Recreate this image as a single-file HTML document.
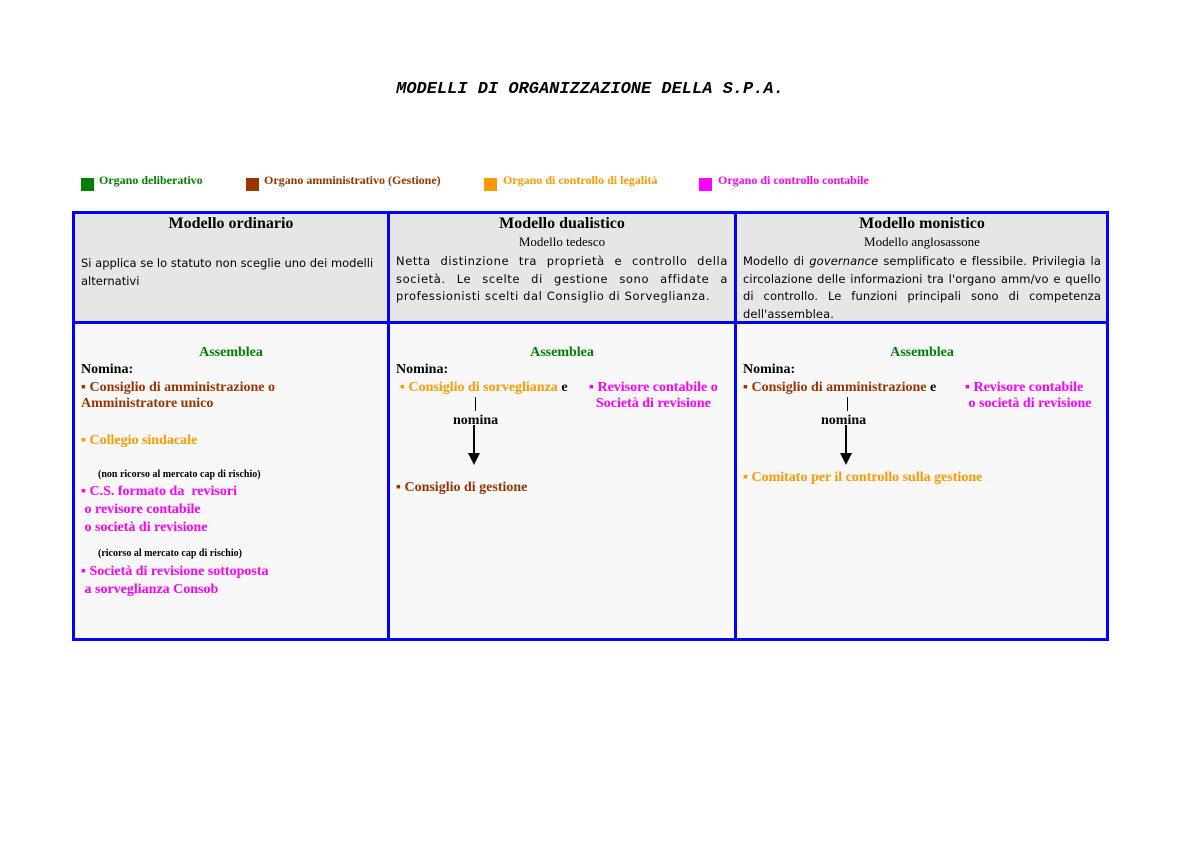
<!DOCTYPE html>
<html><head><meta charset="utf-8"><style>
body{margin:0;width:1200px;height:848px;background:#fff;position:relative;overflow:hidden;font-family:"Liberation Serif",serif}
.a{position:absolute;white-space:nowrap}
.b{font-weight:bold;font-size:14px}
.g{color:#008000}.r{color:#993300}.o{color:#FF9900}.m{color:#FF00FF}.k{color:#000}
.d{font-family:"DejaVu Sans","Liberation Sans",sans-serif;font-size:11.5px;line-height:17.5px;position:absolute;text-align:justify;letter-spacing:0.6px}
.h{position:absolute;text-align:center;font-size:16px;font-weight:bold}
.sq{position:absolute;width:13px;height:13px}
</style></head><body>
<div class="a" style="left:0;width:1180px;top:80px;text-align:center;font-family:'Liberation Mono',monospace;font-weight:bold;font-style:italic;font-size:17px">MODELLI DI ORGANIZZAZIONE DELLA S.P.A.</div>

<div class="sq" style="left:81px;top:178px;background:#008000"></div>
<div class="a b g" style="left:99px;top:173px;font-size:12px">Organo deliberativo</div>
<div class="sq" style="left:246px;top:178px;background:#993300"></div>
<div class="a b r" style="left:264px;top:173px;font-size:12px">Organo amministrativo (Gestione)</div>
<div class="sq" style="left:484px;top:178px;background:#FF9900"></div>
<div class="a b o" style="left:503px;top:173px;font-size:12px">Organo di controllo di legalità</div>
<div class="sq" style="left:699px;top:178px;background:#FF00FF"></div>
<div class="a b m" style="left:718px;top:173px;font-size:12px">Organo di controllo contabile</div>

<div style="position:absolute;left:72px;top:211px;width:1034px;height:110px;background:#e6e6e6"></div>
<div style="position:absolute;left:72px;top:321px;width:1034px;height:317px;background:#f8f8f8"></div>
<div style="position:absolute;left:72px;top:211px;width:1031px;height:424px;border:3px solid #0000ff"></div>
<div style="position:absolute;left:72px;top:321px;width:1036px;height:3px;background:#0000ff"></div>
<div style="position:absolute;left:387px;top:211px;width:3px;height:428px;background:#0000ff"></div>
<div style="position:absolute;left:734px;top:211px;width:3px;height:428px;background:#0000ff"></div>

<div class="h" style="left:75px;width:312px;top:215px">Modello ordinario</div>
<div class="d" style="left:81px;width:302px;top:255px;letter-spacing:0;text-align:left;white-space:nowrap">Si applica se lo statuto non sceglie uno dei modelli<br>alternativi</div>
<div class="h" style="left:390px;width:344px;top:215px">Modello dualistico</div>
<div class="h" style="left:390px;width:344px;top:234px;font-size:13px;font-weight:normal">Modello tedesco</div>
<div class="d" style="left:396px;width:332px;top:253px">Netta distinzione tra proprietà e controllo della società. Le scelte di gestione sono affidate a professionisti scelti dal Consiglio di Sorveglianza.</div>
<div class="h" style="left:737px;width:370px;top:215px">Modello monistico</div>
<div class="h" style="left:737px;width:370px;top:234px;font-size:13px;font-weight:normal">Modello anglosassone</div>
<div class="d" style="left:743px;width:358px;top:253px;letter-spacing:0.1px">Modello di <i>governance</i> semplificato e flessibile. Privilegia la circolazione delle informazioni tra l'organo amm/vo e quello di controllo. Le funzioni principali sono di competenza dell'assemblea.</div>

<!-- col1 -->
<div class="a b g" style="left:75px;width:312px;text-align:center;top:345px">Assemblea</div>
<div class="a b k" style="left:81px;top:362px">Nomina:</div>
<div class="a b r" style="left:81px;top:380px">▪ Consiglio di amministrazione o<br>Amministratore unico</div>
<div class="a b o" style="left:81px;top:433px">▪ Collegio sindacale</div>
<div class="a b k" style="left:98px;top:469px;font-size:10px">(non ricorso al mercato cap di rischio)</div>
<div class="a b m" style="left:81px;top:483px;line-height:18px">▪ C.S. formato da &nbsp;revisori<br>&nbsp;o revisore contabile<br>&nbsp;o società di revisione</div>
<div class="a b k" style="left:98px;top:548px;font-size:10px">(ricorso al mercato cap di rischio)</div>
<div class="a b m" style="left:81px;top:563px;line-height:18px">▪ Società di revisione sottoposta<br>&nbsp;a sorveglianza Consob</div>

<!-- col2 -->
<div class="a b g" style="left:390px;width:344px;text-align:center;top:345px">Assemblea</div>
<div class="a b k" style="left:396px;top:362px">Nomina:</div>
<div class="a b o" style="left:400px;top:380px">▪ Consiglio di sorveglianza <span class="k">e</span></div>
<div class="a b m" style="left:589px;top:380px">▪ Revisore contabile o<br>&nbsp;&nbsp;Società di revisione</div>
<div style="position:absolute;left:475px;top:397px;width:1px;height:14px;background:#000"></div>
<div class="a b k" style="left:453px;top:413px">nomina</div>
<div style="position:absolute;left:473px;top:425px;width:2px;height:30px;background:#000"></div>
<div style="position:absolute;left:468px;top:453px;border-left:6px solid transparent;border-right:6px solid transparent;border-top:12px solid #000"></div>
<div class="a b r" style="left:396px;top:480px">▪ Consiglio di gestione</div>

<!-- col3 -->
<div class="a b g" style="left:737px;width:370px;text-align:center;top:345px">Assemblea</div>
<div class="a b k" style="left:743px;top:362px">Nomina:</div>
<div class="a b r" style="left:743px;top:380px">▪ Consiglio di amministrazione <span class="k">e</span></div>
<div class="a b m" style="left:965px;top:380px">▪ Revisore contabile<br>&nbsp;o società di revisione</div>
<div style="position:absolute;left:847px;top:397px;width:1px;height:14px;background:#000"></div>
<div class="a b k" style="left:821px;top:413px">nomina</div>
<div style="position:absolute;left:845px;top:425px;width:2px;height:30px;background:#000"></div>
<div style="position:absolute;left:840px;top:453px;border-left:6px solid transparent;border-right:6px solid transparent;border-top:12px solid #000"></div>
<div class="a b o" style="left:743px;top:470px">▪ Comitato per il controllo sulla gestione</div>
</body></html>
